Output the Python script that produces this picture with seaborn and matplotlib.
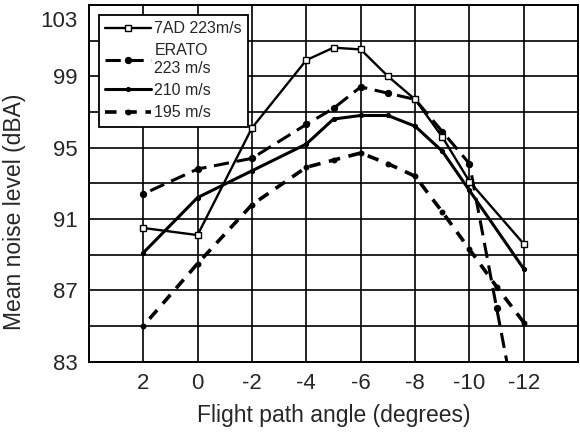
import numpy as np
import pandas as pd
import matplotlib
matplotlib.use("Agg")
import matplotlib.pyplot as plt
import matplotlib.transforms as mtransforms
import seaborn as sns

# data (flight path angle in degrees, noise in dBA)
angle_7ad = [2, 0, -2, -4, -5, -6, -7, -8, -9, -10, -12]
noise_7ad = [90.5, 90.1, 96.1, 99.9, 100.6, 100.5, 99.0, 97.7, 95.6, 93.1, 89.6]

angle_erato = [2, 0, -2, -4, -5, -6, -7, -8, -9, -10, -11, -12]
noise_erato = [92.4, 93.8, 94.4, 96.3, 97.2, 98.4, 98.05, 97.7, 95.9, 94.1, 86.0, 78.0]

angle_210 = [2, 0, -2, -4, -5, -6, -7, -8, -9, -10, -12]
noise_210 = [89.1, 92.2, 93.7, 95.2, 96.6, 96.8, 96.8, 96.2, 94.8, 92.6, 88.2]

angle_195 = [2, 0, -2, -4, -5, -6, -7, -8, -9, -10, -11, -12]
noise_195 = [85.0, 88.5, 91.8, 93.9, 94.3, 94.7, 94.1, 93.4, 91.4, 89.3, 87.2, 85.2]

labels = ["7AD 223m/s", "ERATO\n223 m/s", "210 m/s", "195 m/s"]
x_ticks = [2, 0, -2, -4, -6, -8, -10, -12]
y_ticks = [83, 87, 91, 95, 99, 103]

sns.set_theme(style="white")
plt.rcParams['font.family'] = ['Liberation Sans', 'DejaVu Sans']
plt.rcParams['axes.unicode_minus'] = False

fig, ax = plt.subplots(figsize=(5.8, 4.37), dpi=100)
fig.subplots_adjust(left=0.153, right=0.997, top=0.989, bottom=0.172)

# 7AD - thin solid with open square markers
sns.lineplot(x=angle_7ad, y=noise_7ad, ax=ax, color="black", lw=1.7,
             marker="s", ms=5, mfc="white", mec="black", mew=1.0,
             label=labels[0], zorder=5)
# ERATO - long dashes with dots
sns.lineplot(x=angle_erato, y=noise_erato, ax=ax, color="black", lw=2.2,
             linestyle=(0, (5, 2.5)), marker="o", ms=4.5, mec="black",
             label=labels[1], zorder=4)
# 210 m/s - solid with small dots
sns.lineplot(x=angle_210, y=noise_210, ax=ax, color="black", lw=2.2,
             marker="o", ms=3, mec="black", label=labels[2], zorder=4)
# 195 m/s - short thick dashes
sns.lineplot(x=angle_195, y=noise_195, ax=ax, color="black", lw=2.6,
             linestyle=(0, (3.2, 2.4)), marker="o", ms=3.5, mec="black",
             label=labels[3], zorder=4)

ax.set_xlim(4, -14)
ax.set_ylim(83, 103)
ax.set_xticks(x_ticks)
ax.set_yticks(y_ticks)
ax.set_yticks(np.arange(85, 103, 4), minor=True)
ax.grid(True, which="both", color="black", lw=1.2)
ax.set_axisbelow(True)
ax.tick_params(axis="both", which="major", labelsize=16, direction="out",
               length=3, width=1, color="black", pad=5)
ax.tick_params(axis="y", which="minor", length=0)
ax.tick_params(axis="x", which="major", pad=5)
for s in ax.spines.values():
    s.set_color("black")
    s.set_linewidth(1.4)

# the top label sits a bit lower in the original scan
fig.canvas.draw()
top_lab = ax.get_yticklabels()[-1]
top_lab.set_transform(top_lab.get_transform() +
                      mtransforms.ScaledTranslation(0, -10 / 72, fig.dpi_scale_trans))

ax.set_xlabel("Flight path angle (degrees)", fontsize=16.5, labelpad=7)
ax.set_ylabel("Mean noise level (dBA)", fontsize=16.5)
ax.yaxis.set_label_coords(-0.128, 0.42)

leg = ax.legend(loc="upper left", bbox_to_anchor=(0.02, 0.972), borderaxespad=0,
                fontsize=11.5, handlelength=2.9, handletextpad=0.2,
                labelspacing=0.45, borderpad=0.4, fancybox=False,
                framealpha=1, edgecolor="black")
leg.get_frame().set_linewidth(1.3)

fig.savefig("out.png", dpi=100)
